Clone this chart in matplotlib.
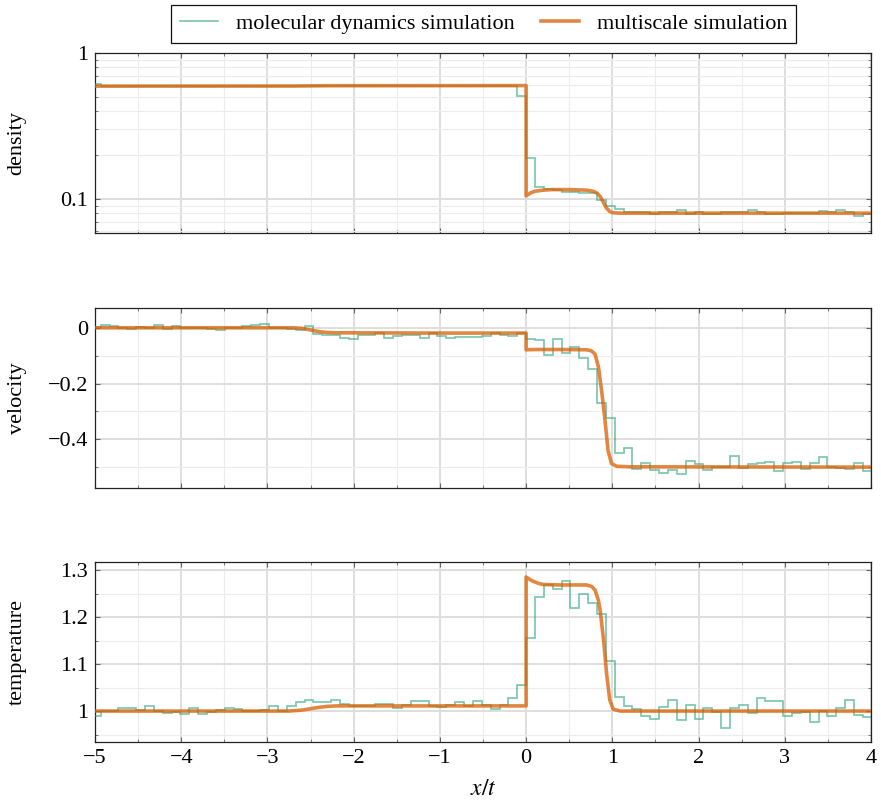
import numpy as np
import matplotlib
matplotlib.use('Agg')
import matplotlib.pyplot as plt
from matplotlib.lines import Line2D
from matplotlib.ticker import FixedLocator, NullFormatter, FixedFormatter

plt.rcParams.update({
    'font.family': 'serif', 'font.serif': ['Liberation Serif', 'DejaVu Serif'],
    'mathtext.fontset': 'stix', 'font.size': 16,
})

# MD bins: edges at k*BIN_W, k = -49 .. 39
BIN_W = 0.1028
BIN_K0, BIN_K1 = -49, 39

# ---- molecular dynamics (step) values, one per bin, left to right ----
md_density = [
    0.612, 0.597, 0.596, 0.598, 0.595, 0.597, 0.596, 0.598, 0.595, 0.597,
    0.596, 0.597, 0.595, 0.598, 0.596, 0.597, 0.596, 0.598, 0.597, 0.596,
    0.598, 0.597, 0.596, 0.598, 0.597, 0.596, 0.598, 0.597, 0.598, 0.597,
    0.596, 0.598, 0.597, 0.598, 0.597, 0.598, 0.597, 0.598, 0.598, 0.597,
    0.598, 0.597, 0.598, 0.598, 0.597, 0.598, 0.598, 0.597, 0.51,
    0.192, 0.1215, 0.117, 0.116, 0.112, 0.111, 0.110, 0.110, 0.0984, 0.090,
    0.0854, 0.0811, 0.0811, 0.0811, 0.0785, 0.082, 0.082, 0.0835, 0.0785, 0.0811,
    0.0793, 0.0793, 0.0811, 0.0811, 0.0811, 0.0835, 0.082, 0.0793, 0.0793, 0.0802,
    0.0802, 0.0802, 0.0802, 0.0828, 0.082, 0.0845, 0.082, 0.0761, 0.0785,
]
md_velocity = [
    0.002, 0.009, 0.005, -0.001, -0.006, 0.004, -0.001, 0.011, -0.004, 0.008,
    -0.001, -0.002, -0.001, -0.003, -0.008, -0.001, 0.001, 0.008, 0.010, 0.015,
    -0.001, -0.002, -0.003, -0.007, 0.005, -0.023, -0.025, -0.025, -0.035, -0.040,
    -0.025, -0.027, -0.018, -0.035, -0.029, -0.027, -0.027, -0.035, -0.020, -0.030,
    -0.035, -0.032, -0.032, -0.032, -0.029, -0.020, -0.025, -0.030, -0.018,
    -0.042, -0.045, -0.096, -0.042, -0.089, -0.070, -0.110, -0.149, -0.270, -0.323,
    -0.449, -0.433, -0.508, -0.485, -0.511, -0.520, -0.511, -0.523, -0.477, -0.489,
    -0.511, -0.501, -0.499, -0.461, -0.504, -0.489, -0.485, -0.481, -0.513, -0.487,
    -0.480, -0.508, -0.487, -0.463, -0.501, -0.504, -0.508, -0.487, -0.515,
]
md_temperature = [
    0.990, 1.000, 1.000, 1.006, 1.006, 1.003, 1.011, 1.000, 0.996, 0.997,
    0.993, 1.006, 0.994, 0.999, 1.003, 1.006, 1.004, 1.001, 1.000, 1.003,
    1.010, 1.000, 1.011, 1.019, 1.023, 1.019, 1.019, 1.024, 1.016, 1.011,
    1.011, 1.011, 1.016, 1.016, 1.006, 1.014, 1.021, 1.021, 1.011, 1.009,
    1.014, 1.020, 1.010, 1.021, 1.014, 1.004, 1.014, 1.027, 1.056,
    1.156, 1.244, 1.269, 1.260, 1.277, 1.219, 1.250, 1.231, 1.208, 1.106,
    1.029, 1.011, 1.004, 0.990, 0.983, 1.009, 1.024, 0.981, 1.013, 0.984,
    1.006, 0.999, 0.963, 1.006, 1.014, 0.995, 1.027, 1.021, 1.021, 0.990,
    0.995, 0.997, 0.977, 1.001, 0.990, 1.007, 1.024, 0.991, 0.988,
]

# ---- multiscale simulation (smooth line) ----
ms_density_x = [-5, -2.7, -2.3, 0, 0, 0.05, 0.1, 0.2, 0.3, 0.5, 0.7, 0.78, 0.82,
                0.86, 0.9, 0.93, 0.97, 1.01, 1.1, 2, 3, 4]
ms_density_y = [0.593, 0.594, 0.597, 0.598, 0.105, 0.110, 0.113, 0.115, 0.116, 0.116,
                0.115, 0.113, 0.110, 0.104, 0.094, 0.087, 0.082, 0.0805, 0.080,
                0.080, 0.080, 0.080]
ms_velocity_x = [-5, -2.7, -2.6, -2.5, -2.4, -2.3, -2.2, -1, 0, 0, 0.1, 0.4, 0.7,
                 0.76, 0.8, 0.84, 0.88, 0.915, 0.95, 0.99, 1.05, 1.2, 4]
ms_velocity_y = [0, 0, -0.002, -0.008, -0.014, -0.017, -0.018, -0.019, -0.019,
                 -0.079, -0.078, -0.078, -0.079, -0.083, -0.095, -0.142, -0.237,
                 -0.332, -0.44, -0.487, -0.497, -0.499, -0.5]
ms_temp_x = [-5, -2.75, -2.6, -2.5, -2.4, -2.3, -2.2, 0, 0, 0.04, 0.08, 0.15, 0.2,
             0.4, 0.7, 0.76, 0.8, 0.84, 0.86, 0.9, 0.935, 0.97, 1.01, 1.09, 4]
ms_temp_y = [1.0, 1.0, 1.002, 1.005, 1.008, 1.010, 1.011, 1.011, 1.286, 1.281,
             1.277, 1.272, 1.27, 1.269, 1.269, 1.266, 1.258, 1.235, 1.213, 1.149,
             1.077, 1.024, 1.004, 1.0, 1.0]

GREEN, ORANGE = '#1b9e77', '#d95f02'
edges = BIN_W * np.arange(BIN_K0, BIN_K1 + 1)

fig = plt.figure(figsize=(8.81, 8.01), dpi=100)
L, W, H = 95/881, 776/881, 180/801
ax_d = fig.add_axes([L, 1 - 233/801, W, H])
ax_v = fig.add_axes([L, 1 - 488/801, W, H])
ax_t = fig.add_axes([L, 1 - 742/801, W, H])

panels = [
    (ax_d, md_density, ms_density_x, ms_density_y, 'density'),
    (ax_v, md_velocity, ms_velocity_x, ms_velocity_y, 'velocity'),
    (ax_t, md_temperature, ms_temp_x, ms_temp_y, 'temperature'),
]
for ax, md, mx, my, lab in panels:
    ax.stairs(md, edges, baseline=None, color=GREEN, alpha=0.6, lw=1.2, zorder=3)
    ax.plot(mx, my, color=ORANGE, alpha=0.75, lw=2.6, zorder=4,
            solid_joinstyle='round')
    ax.set_xlim(-5, 4)
    ax.xaxis.set_major_locator(FixedLocator(np.arange(-5, 5)))
    ax.xaxis.set_minor_locator(FixedLocator(np.arange(-4.5, 4, 1.0)))
    ax.grid(which='major', color='#dedede', lw=1.4, zorder=0)
    ax.grid(which='minor', color='#ececec', lw=0.8, zorder=0)
    ax.set_axisbelow(True)
    ax.tick_params(which='both', direction='in', top=True, right=True,
                   color='#666666', labelsize=16, pad=5)
    ax.tick_params(which='major', length=3.5, width=0.8)
    ax.tick_params(which='minor', length=2.5, width=0.6)
    for s in ax.spines.values():
        s.set_color('#222222'); s.set_linewidth(0.9)
    ax.set_ylabel(lab, fontsize=16)
    ax.yaxis.set_label_coords(-0.088, 0.5)

# density: log axis
ax_d.set_yscale('log')
ax_d.set_ylim(0.0585, 1.0)
ax_d.yaxis.set_major_locator(FixedLocator([0.1, 1]))
ax_d.yaxis.set_major_formatter(FixedFormatter(['0.1', '1']))
ax_d.yaxis.set_minor_locator(FixedLocator([0.06, 0.07, 0.08, 0.09, 0.2, 0.3,
                                           0.4, 0.5, 0.6, 0.7, 0.8, 0.9]))
ax_d.yaxis.set_minor_formatter(NullFormatter())

ax_v.set_ylim(-0.575, 0.071)
ax_v.yaxis.set_major_locator(FixedLocator([-0.4, -0.2, 0]))
ax_v.yaxis.set_major_formatter(FixedFormatter(['\u22120.4', '\u22120.2', '0']))
ax_v.yaxis.set_minor_locator(FixedLocator([-0.5, -0.3, -0.1]))

ax_t.set_ylim(0.934, 1.318)
ax_t.yaxis.set_major_locator(FixedLocator([1.0, 1.1, 1.2, 1.3]))
ax_t.yaxis.set_major_formatter(FixedFormatter(['1', '1.1', '1.2', '1.3']))
ax_t.yaxis.set_minor_locator(FixedLocator([0.95, 1.05, 1.15, 1.25]))

for ax in (ax_d, ax_v):
    ax.tick_params(labelbottom=False)
ax_t.set_xticklabels(['\u22125', '\u22124', '\u22123', '\u22122', '\u22121',
                      '0', '1', '2', '3', '4'])
ax_t.set_xlabel('$x/t$', fontsize=17, labelpad=8)

handles = [Line2D([], [], color=GREEN, alpha=0.6, lw=1.2),
           Line2D([], [], color=ORANGE, alpha=0.75, lw=2.6)]
leg = fig.legend(handles, ['molecular dynamics simulation', 'multiscale simulation'],
                 loc='upper center', bbox_to_anchor=(0.549, 0.994), ncol=2,
                 fancybox=False, edgecolor='#111111', framealpha=1, fontsize=16,
                 handlelength=1.7, handletextpad=0.8, columnspacing=1.2,
                 borderpad=0.4, borderaxespad=0)
leg.get_frame().set_linewidth(0.9)

fig.savefig('out.png', dpi=100, facecolor='white')
